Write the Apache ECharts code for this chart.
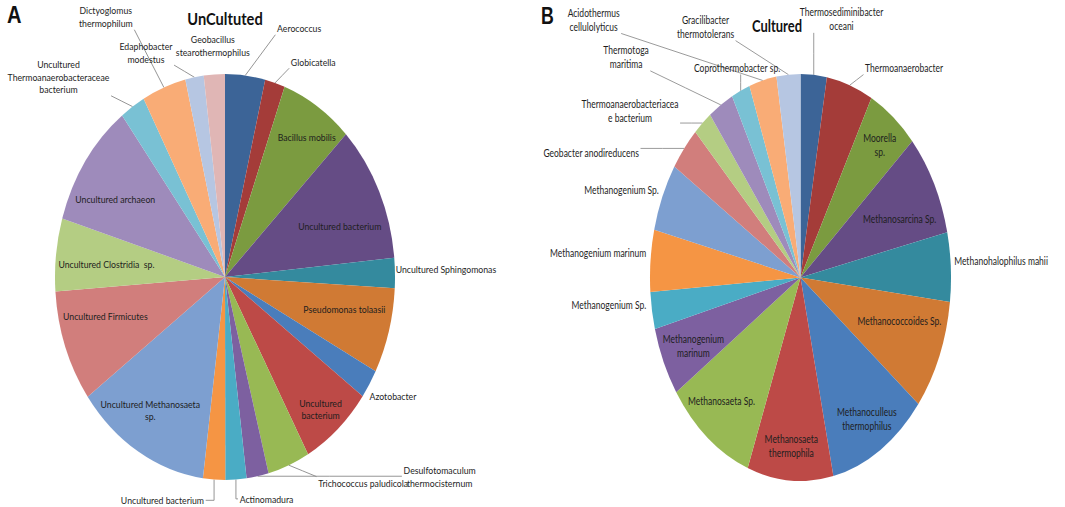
<!DOCTYPE html>
<html><head><meta charset="utf-8">
<script src="https://cdn.jsdelivr.net/npm/echarts@6/dist/echarts.min.js"></script>
<style>
html,body{margin:0;padding:0;background:#fff;width:1065px;height:507px;overflow:hidden;position:relative}
.panel{position:absolute;top:0;height:507px;transform-origin:0 0}
</style></head><body>
<div id="panelA" class="panel"></div>
<div id="panelB" class="panel"></div>
<script>
// ---------- data ----------
const titleA = 'UnCultuted';
const titleB = 'Cultured';
const panelLetterA = 'A';
const panelLetterB = 'B';
const categoriesA = [
  'Aerococcus', 'Globicatella', 'Bacillus mobilis', 'Uncultured bacterium',
  'Uncultured Sphingomonas', 'Pseudomonas tolaasii', 'Azotobacter', 'Uncultured\nbacterium',
  'Trichococcus paludicola', 'Desulfotomaculum\nthermocisternum', 'Actinomadura', 'Uncultured bacterium',
  'Uncultured Methanosaeta\nsp.', 'Uncultured Firmicutes', 'Uncultured Clostridia  sp.', 'Uncultured archaeon',
  'Uncultured\nThermoanaerobacteraceae\nbacterium', 'Dictyoglomus\nthermophilum', 'Edaphobacter\nmodestus', 'Geobacillus\nstearothermophilus'
];
const valuesA = [3.8, 1.9, 6.9, 10.9, 2.4, 6.8, 2.3, 6.9, 4.0, 2.1, 2.0, 2.1, 12.9, 8.9, 5.8, 10.0, 2.4, 4.2, 1.75, 2.0];
const categoriesB = [
  'Thermosediminibacter\noceani', 'Thermoanaerobacter', 'Moorella\nsp.', 'Methanosarcina Sp.',
  'Methanohalophilus mahii', 'Methanococcoides Sp.', 'Methanoculleus\nthermophilus', 'Methanosaeta\nthermophila',
  'Methanosaeta Sp.', 'Methanogenium\nmarinum', 'Methanogenium Sp.', 'Methanogenium marinum',
  'Methanogenium Sp.', 'Geobacter anodireducens', 'Thermoanaerobacteriacea\ne bacterium', 'Thermotoga\nmaritima',
  'Coprothermobacter sp.', 'Acidothermus\ncellulolyticus', 'Gracilibacter\nthermotolerans'
];
const valuesB = [2.8, 5.0, 5.5, 8.1, 5.5, 8.75, 10.8, 9.2, 9.75, 5.45, 2.95, 4.9, 5.4, 3.5, 2.05, 2.75, 2.0, 2.95, 2.55];

// ---------- style ----------
const palette = [
  '#3C6497', '#A43C39', '#7B9B40', '#654C85', '#348A9E', '#D07A34',
  '#4A7DBB', '#BD4A47', '#98B954', '#7D60A0', '#4AACC5', '#F59544',
  '#7D9FD0', '#D17E7C', '#B4CD83', '#9E8BBB', '#79C1D4', '#F9AC76',
  '#B6C6E2', '#E0B6B5'
];
const FONT = "Lato,'Noto Sans',sans-serif";
// label placement: index -> [direction in degrees clockwise from 12 o'clock, distance as fraction of radius]
const placeA = {0: [19.6, 1.30], 1: [26.1, 1.18], 2: [34.9, 0.84], 3: [69.6, 0.72], 4: [88.4, 1.30],
  5: [102.9, 0.72], 6: [120.8, 1.15], 7: [139.2, 0.86], 8: [141.3, 1.30], 9: [127.9, 1.60],
  10: [167.4, 1.12], 11: [198.5, 1.16], 12: [213.8, 0.79], 13: [254.6, 0.73], 14: [275.1, 0.70],
  15: [300.6, 0.75], 16: [315.2, 1.39], 17: [331.3, 1.46], 18: [337.2, 1.20], 19: [356.4, 1.14]};
const placeB = {0: [12.1, 1.30], 1: [33.7, 1.24], 2: [38.8, 0.84], 3: [66.2, 0.72], 4: [86.4, 1.335],
  5: [107.7, 0.69], 6: [147.5, 0.82], 7: [184.2, 0.83], 8: [221.0, 0.80], 9: [245.0, 0.785],
  10: [264.0, 1.28], 11: [275.2, 1.35], 12: [290.0, 1.265], 13: [293.8, 1.52], 14: [306.0, 1.40],
  15: [313.1, 1.587], 16: [337.8, 1.115], 17: [312.7, 1.87], 18: [332.9, 1.385]};
const linesA = [0, 1, 8, 9, 10, 11, 16, 17, 18];
const linesB = [0, 1, 13, 14, 15, 16, 17, 18];
const elbowA = [10, 11];
const elbowB = [];

// panel geometry (drawn with a circular pie, then squeezed horizontally like the reference)
const panels = [
  {id: 'panelA', left: 0, width: 530, squeeze: 1.194, cx: 225, cy: 277, ry: 203, font: 10.4,
   cats: categoriesA, vals: valuesA, place: placeA, lines: linesA, elbow: elbowA,
   title: titleA, titleX: 225, titleY: 18, letter: panelLetterA, letterX: 7},
  {id: 'panelB', left: 530, width: 535, squeeze: 1.352, cx: 800.5, cy: 277.5, ry: 203.5, font: 11.5,
   cats: categoriesB, vals: valuesB, place: placeB, lines: linesB, elbow: elbowB,
   title: titleB, titleX: 777, titleY: 25, letter: panelLetterB, letterX: 541}
];

panels.forEach(function (P) {
  const dom = document.getElementById(P.id);
  const W = P.width * P.squeeze;
  dom.style.left = P.left + 'px';
  dom.style.width = W + 'px';
  dom.style.transform = 'scaleX(' + (1 / P.squeeze) + ')';
  const cx = (P.cx - P.left) * P.squeeze, cy = P.cy, R = P.ry;
  const total = P.vals.reduce((a, b) => a + b, 0);
  const mid = [];
  let acc = 0;
  P.vals.forEach(v => { mid.push((acc + v / 2) / total * 2 * Math.PI); acc += v; });

  const chart = echarts.init(dom, null, {renderer: 'svg'});
  chart.setOption({
    animation: false,
    graphic: [
      {type: 'text', x: (P.letterX - P.left) * P.squeeze, y: 3, silent: true,
       style: {text: P.letter, font: "bold 24px 'Liberation Sans',Arial,sans-serif", fill: '#111'}},
      {type: 'text', x: (P.titleX - P.left) * P.squeeze, y: P.titleY, silent: true,
       style: {text: P.title, align: 'center', verticalAlign: 'middle', font: "bold 17.5px " + FONT, fill: '#111'}}
    ],
    series: [{
      type: 'pie', silent: true, startAngle: 90, clockwise: true,
      center: [cx, cy], radius: [0, R],
      avoidLabelOverlap: false,
      label: {fontFamily: FONT, fontSize: P.font, color: '#1e1e1e', lineHeight: P.font * 1.22, overflow: 'none', align: 'center'},
      labelLine: {length: 5, length2: 5, lineStyle: {color: '#8c8c8c', width: 1}},
      emphasis: {disabled: true},
      data: P.cats.map((c, i) => ({
        name: c, value: P.vals[i],
        itemStyle: {color: palette[i], borderWidth: 0},
        label: {position: P.place[i] && P.place[i][1] < 1 ? 'inside' : 'outside'},
        labelLine: {show: P.lines.indexOf(i) >= 0}
      })),
      labelLayout: function (p) {
        const pl = P.place[p.dataIndex];
        if (!pl) return {};
        const a = pl[0] * Math.PI / 180;
        const x = cx + pl[1] * R * Math.sin(a);
        const y = cy - pl[1] * R * Math.cos(a);
        const res = {x: x, y: y, align: 'center', verticalAlign: 'middle'};
        if (P.lines.indexOf(p.dataIndex) >= 0) {
          const t = mid[p.dataIndex];
          const p0 = [cx + R * Math.sin(t), cy - R * Math.cos(t)];
          const w = p.labelRect.width / 2 + 2, h = p.labelRect.height / 2;
          if (P.elbow.indexOf(p.dataIndex) >= 0) {
            const px = p0[0] < x ? x - w : x + w;
            res.labelLinePoints = [p0, [p0[0], y], [px, y]];
          } else {
            const p1 = [Math.min(Math.max(p0[0], x - w), x + w), Math.min(Math.max(p0[1], y - h), y + h)];
            res.labelLinePoints = [p0, [(p0[0] + p1[0]) / 2, (p0[1] + p1[1]) / 2], p1];
          }
        }
        return res;
      }
    }]
  });
});
</script>
</body></html>
